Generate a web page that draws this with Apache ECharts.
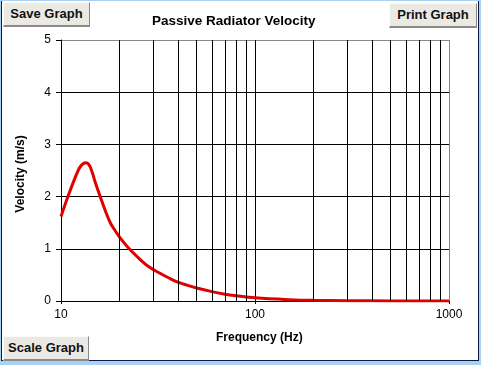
<!DOCTYPE html>
<html>
<head>
<meta charset="utf-8">
<script src="https://cdn.jsdelivr.net/npm/echarts@6/dist/echarts.min.js"></script>
<style>
html,body{margin:0;padding:0;width:481px;height:365px;overflow:hidden;background:#a9d1f2;font-family:"Liberation Sans",Arial,sans-serif;}
#frame{position:absolute;left:1px;top:1px;width:476px;height:359px;background:#fff;border-left:1px solid #0b1b45;border-right:1px solid #0b1b45;border-bottom:1px solid #0b1b45;}
#chart{position:absolute;left:0;top:0;width:481px;height:365px;}
.btn{position:absolute;background:#ebe9e4;border-top:1px solid #fbfbfb;border-left:1px solid #fbfbfb;border-right:1px solid #8a8a8a;border-bottom:2px solid #8a8a8a;box-sizing:border-box;font-weight:bold;font-size:13px;color:#111;text-align:center;line-height:22px;}
</style>
</head>
<body>
<div id="frame"></div>
<div id="chart"></div>
<div class="btn" style="left:3px;top:2px;width:87px;height:25px;">Save Graph</div>
<div class="btn" style="left:389px;top:3px;width:88px;height:25px;">Print Graph</div>
<div class="btn" style="left:3px;top:336px;width:86px;height:25px;">Scale Graph</div>
<script>
// Frequency (Hz) and velocity (m/s)
const freqs = [10, 11, 12, 12.5, 13, 13.5, 14, 14.5, 15, 16, 17, 18, 19, 20, 22, 25, 28, 32, 36, 40, 45, 50, 60, 70, 80, 100, 150, 200, 300, 500, 1000];
const velocity = [1.62, 2.06, 2.42, 2.56, 2.63, 2.65, 2.60, 2.46, 2.28, 1.98, 1.71, 1.49, 1.35, 1.23, 1.04, 0.83, 0.67, 0.54, 0.44, 0.36, 0.30, 0.25, 0.18, 0.13, 0.10, 0.06, 0.025, 0.012, 0.005, 0.002, 0.0005];
const minorGridFreqs = [20, 30, 40, 50, 60, 70, 80, 90, 200, 300, 400, 500, 600, 700, 800, 900];
const yTicks = [0, 1, 2, 3, 4, 5];
const xLabels = [10, 100, 1000];

const chart = echarts.init(document.getElementById('chart'), null, {renderer: 'canvas'});
const font = '"Liberation Sans", Arial, sans-serif';
chart.setOption({
  animation: false,
  grid: {left: 61, right: 32, top: 40, bottom: 64, containLabel: false},
  xAxis: {
    type: 'log', logBase: 10, min: 10, max: 1000,
    axisLine: {show: true, lineStyle: {color: '#000', width: 1}},
    axisTick: {show: true, length: 3, lineStyle: {color: '#000'}},
    axisLabel: {margin: 8, color: '#000', fontSize: 12, fontFamily: font,
      formatter: v => xLabels.indexOf(Math.round(v)) >= 0 ? String(Math.round(v)) : ''},
    splitLine: {show: true, lineStyle: {color: ['#000', '#000', '#888'], width: 1}},
    minorTick: {show: false}, minorSplitLine: {show: false}
  },
  yAxis: {
    type: 'value', min: yTicks[0], max: yTicks[yTicks.length - 1], interval: 1,
    axisLine: {show: true, lineStyle: {color: '#000', width: 1}},
    axisTick: {show: true, length: 5, lineStyle: {color: '#000'}},
    axisLabel: {margin: 10, color: '#000', fontSize: 12, fontFamily: font},
    splitLine: {show: true, lineStyle: {color: ['#000', '#000', '#000', '#000', '#000', '#888'], width: 1}}
  },
  graphic: [
    {type: 'text', left: 152, top: 14, style: {text: 'Passive Radiator Velocity', font: 'bold 13.5px ' + font, fill: '#000'}},
    {type: 'text', x: 21, y: 174, rotation: Math.PI / 2, style: {text: 'Velocity (m/s)', font: 'bold 12px ' + font, fill: '#000', align: 'center', verticalAlign: 'middle'}},
    {type: 'text', left: 216, top: 332, style: {text: 'Frequency (Hz)', font: 'bold 12px ' + font, fill: '#000'}}
  ],
  series: [
    {
      type: 'line', data: [], z: 1, silent: true,
      markLine: {
        silent: true, symbol: 'none', animation: false,
        label: {show: false},
        lineStyle: {color: '#000', width: 1, type: 'solid'},
        data: minorGridFreqs.map(f => ({xAxis: f}))
      }
    },
    {
      type: 'line', z: 3, smooth: 0.35, showSymbol: false,
      data: freqs.map((f, i) => [f, velocity[i]]),
      lineStyle: {color: '#e00000', width: 3},
      itemStyle: {color: '#e00000'}
    }
  ]
});
</script>
</body>
</html>
